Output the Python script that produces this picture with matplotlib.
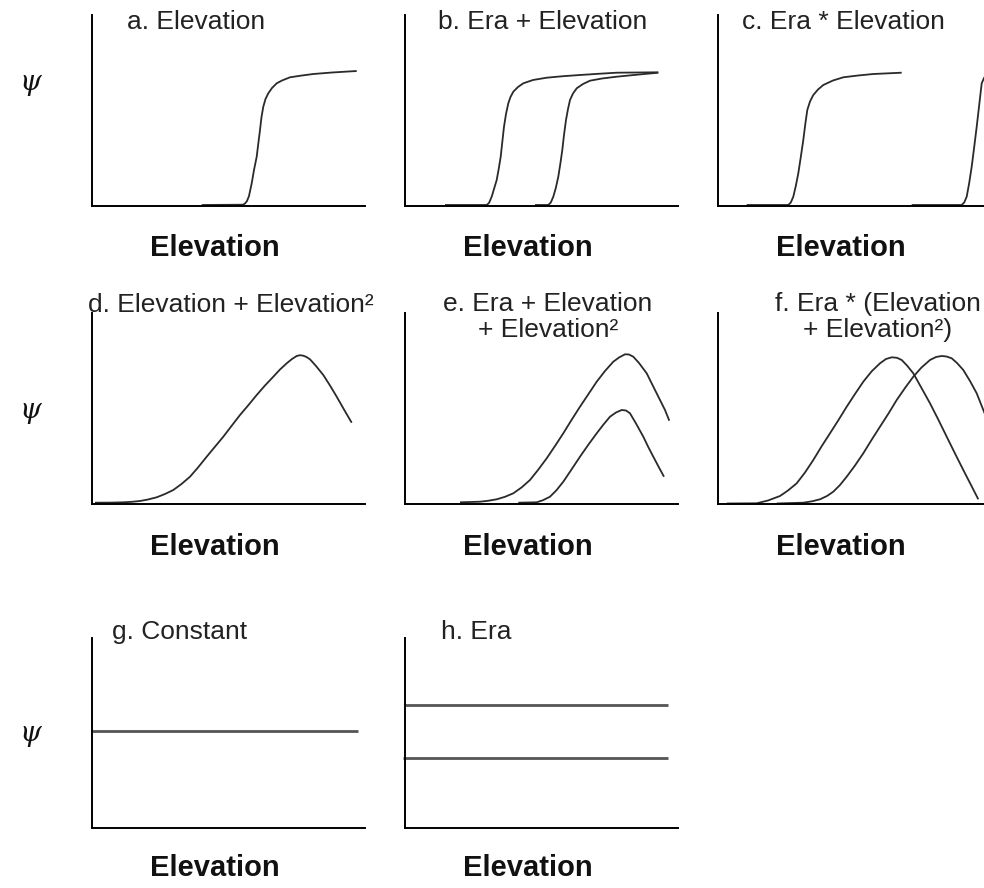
import numpy as np
import matplotlib.pyplot as plt

plt.rcParams['font.family'] = ['Liberation Sans', 'DejaVu Sans']

# panel size in pixels (x from the y-axis, y up from the x-axis)
W, H = 273, 191

# a. Elevation
a_x = [109.7, 151, 153, 155, 157, 159.7, 162, 164.7, 166.5, 168, 169.5, 171.3,
       173.5, 176.3, 180, 184.7, 190, 198, 210, 221.3, 240, 264.7]
a_y = [1, 1.3, 2.5, 5, 10, 22.7, 36, 49.3, 64, 76, 89, 99.3,
       107, 112.7, 118, 122.7, 125.5, 128.7, 130.5, 132, 133.5, 135]

# b. Era + Elevation
b1_x = [40, 81.7, 84, 86.7, 89, 91.7, 93.7, 95.7, 97.3, 99, 101, 103.3, 105.5,
        108.3, 113, 118.3, 128, 141.7, 158, 175, 195, 211.7, 253.3]
b1_y = [1, 1, 3, 9.3, 17, 26, 37, 49.3, 64, 79.3, 92, 102.7, 109,
        114.3, 119, 122.7, 126, 128.3, 129.8, 131, 132.3, 133.3, 133.7]
b2_x = [130, 143.3, 145.8, 148.3, 150.8, 153.3, 155.3, 157.3, 159, 161, 163, 165,
        168, 171.7, 178, 185, 197, 211.7, 232, 253.3]
b2_y = [1, 1, 3.5, 9.3, 18, 29.3, 42, 56, 71, 86, 97, 106,
        112.5, 117.7, 122, 125.3, 127.5, 129.3, 131.3, 133.3]

# c. Era * Elevation
c1_x = [28.7, 70.3, 72.8, 75.3, 77.8, 80.3, 82.8, 85.3, 87.3, 89.3, 92, 95.3,
        100, 105.3, 115, 125.3, 140, 155.3, 183.7]
c1_y = [1, 1, 3.5, 9.3, 20, 32.7, 49, 66, 82, 96, 104.5, 111,
        116.5, 121, 125.5, 128.7, 130.5, 132, 133.3]
c2_x = [193.7, 243.7, 246.2, 248.7, 251.2, 253.7, 256.2, 258.7, 261.2, 263.7,
        266, 269, 274, 282]
c2_y = [1, 1, 3.5, 9.3, 23, 39.3, 59, 79.3, 101, 122.7,
        128, 131.5, 134.5, 136.5]

# d. Elevation + Elevation^2
d_x = [3, 20, 31.3, 40, 48, 56, 64.7, 73, 81.3, 89.5, 98, 106, 114.7, 123, 131.3,
       139.5, 148, 156.5, 164.7, 173, 181.3, 188, 194.7, 200, 204.7, 208, 211.3,
       214.5, 218, 224, 231.3, 238, 244.7, 252, 259.7]
d_y = [1.3, 1.4, 1.7, 2.2, 3, 4.5, 6.7, 10, 14, 20, 27.3, 36.5, 47.3, 57.3, 67.3,
       78, 89, 99, 109, 118.5, 127.3, 134.5, 140.7, 145, 148, 148.8, 148.3,
       147, 144.7, 138, 129, 118.5, 107.3, 94.5, 81.3]

# e. Era + Elevation + Elevation^2
e1_x = [55, 75, 83, 91.7, 100, 108.3, 116.5, 125, 133, 141.7, 150, 158.3, 166.5,
        175, 183.5, 191.7, 200, 208.3, 214, 220, 224, 228.3, 234, 241.7, 248,
        255, 260, 264.3]
e1_y = [1.7, 2.3, 3.2, 4.7, 7.2, 10.7, 16.5, 24, 34, 45.7, 58, 70.7, 84,
        97.3, 110, 122.3, 133, 142.3, 146.5, 149.7, 149.5, 147.3, 141, 130.7, 118,
        104, 94, 83.3]
e2_x = [113.3, 131.7, 138, 145, 151.5, 158.3, 166.5, 175, 183.5, 191.7, 198.5,
        205, 211, 216.7, 221, 225, 231, 238.3, 243, 248.3, 254, 259]
e2_y = [1.3, 1.7, 3.8, 7.3, 13.8, 22.3, 34.5, 47.3, 59.5, 70.7, 79.5,
        87.3, 91.5, 94, 93.5, 90.7, 80.5, 67.3, 57.5, 47.3, 36.5, 27.3]

# f. Era * (Elevation + Elevation^2)
f1_x = [8.7, 38.7, 50, 62, 70, 78.7, 87, 95.3, 103.5, 112, 120.5, 128.7, 137,
        145.3, 153.5, 162, 168, 173.7, 179, 183.7, 189, 195.3, 203.5, 212, 220.5,
        228.7, 237, 245.3, 253, 260.3]
f1_y = [0.5, 0.7, 3.5, 8, 13.5, 20.7, 31.5, 44, 57.5, 70.7, 84, 97.3, 110,
        122.3, 132.5, 140.7, 145, 146.7, 146.2, 144, 138.5, 130.7, 116, 100.7, 84,
        67.3, 50.5, 34, 19, 4.7]
f2_x = [58.7, 85.3, 94, 102, 109, 115.3, 122, 128.7, 137, 145.3, 153.5, 162,
        170.5, 178.7, 187, 195.3, 203.5, 212, 218, 223.7, 228.5, 233.7, 239,
        245.3, 252, 258.7, 266, 277]
f2_y = [0.5, 1.3, 2.7, 4.7, 8, 12.3, 19, 27.3, 38.5, 50.7, 64, 77.3,
        90.5, 104, 116, 127.3, 136.5, 144, 147, 148, 147.5, 145.7, 141,
        134, 123, 110.7, 92.3, 64]

# g. Constant / h. Era
g_x = [0, 266]
g_y = [97, 97]
h1_x = [0, 263]
h1_y = [123, 123]
h2_x = [-2, 263]
h2_y = [70, 70]

titles = ['a. Elevation', 'b. Era + Elevation', 'c. Era * Elevation',
          'd. Elevation + Elevation\u00b2', 'e. Era + Elevation\n+ Elevation\u00b2',
          'f. Era * (Elevation\n+ Elevation\u00b2)', 'g. Constant', 'h. Era']
title_pos = [(0.381, 0.963), (0.505, 0.963), (0.46, 0.963),
             (0.51, 1.04), (0.524, 0.979), (0.586, 0.979),
             (0.32, 1.03), (0.26, 1.03)]

curves = [
    [(a_x, a_y)],
    [(b1_x, b1_y), (b2_x, b2_y)],
    [(c1_x, c1_y), (c2_x, c2_y)],
    [(d_x, d_y)],
    [(e1_x, e1_y), (e2_x, e2_y)],
    [(f1_x, f1_y), (f2_x, f2_y)],
    [(g_x, g_y)],
    [(h1_x, h1_y), (h2_x, h2_y)],
]

lefts = [92, 405, 718]
bottoms = [206, 504, 828]
tops = [15, 313, 638]
label_gap = [42, 43, 40]
psi_y = [83, 410, 733]

fig = plt.figure(figsize=(9.84, 8.88), dpi=100)

for i in range(8):
    row, col = divmod(i, 3)
    x0 = lefts[col]
    y0 = bottoms[row]
    h = y0 - tops[row]
    ax = fig.add_axes([x0 / 984, (888 - y0) / 888, W / 984, h / 888])
    flat = row == 2
    for xs, ys in curves[i]:
        ax.plot(xs, ys, color='#555555' if flat else '#2a2a2a',
                lw=2.0 if flat else 1.3, solid_capstyle='butt', clip_on=False)
    ax.set_xlim(0, W)
    ax.set_ylim(0, h)
    ax.spines['top'].set_visible(False)
    ax.spines['right'].set_visible(False)
    ax.spines['left'].set_linewidth(1.4)
    ax.spines['bottom'].set_linewidth(1.4)
    ax.set_xticks([])
    ax.set_yticks([])
    tx, ty = title_pos[i]
    ax.text(tx, ty, titles[i], transform=ax.transAxes, ha='center', va='center',
            fontsize=19, color='#222222', linespacing=1.15)
    ax.text(0.45, -label_gap[row] / h, 'Elevation', transform=ax.transAxes,
            ha='center', va='center', fontsize=21, fontweight='bold', color='#111111')
    if col == 0:
        ax.text((30 - x0) / W, (y0 - psi_y[row]) / h, '\u03c8', transform=ax.transAxes,
                ha='center', va='center', fontsize=20, style='italic',
                family='DejaVu Serif', color='#111111')

plt.savefig('out.png', dpi=100)
